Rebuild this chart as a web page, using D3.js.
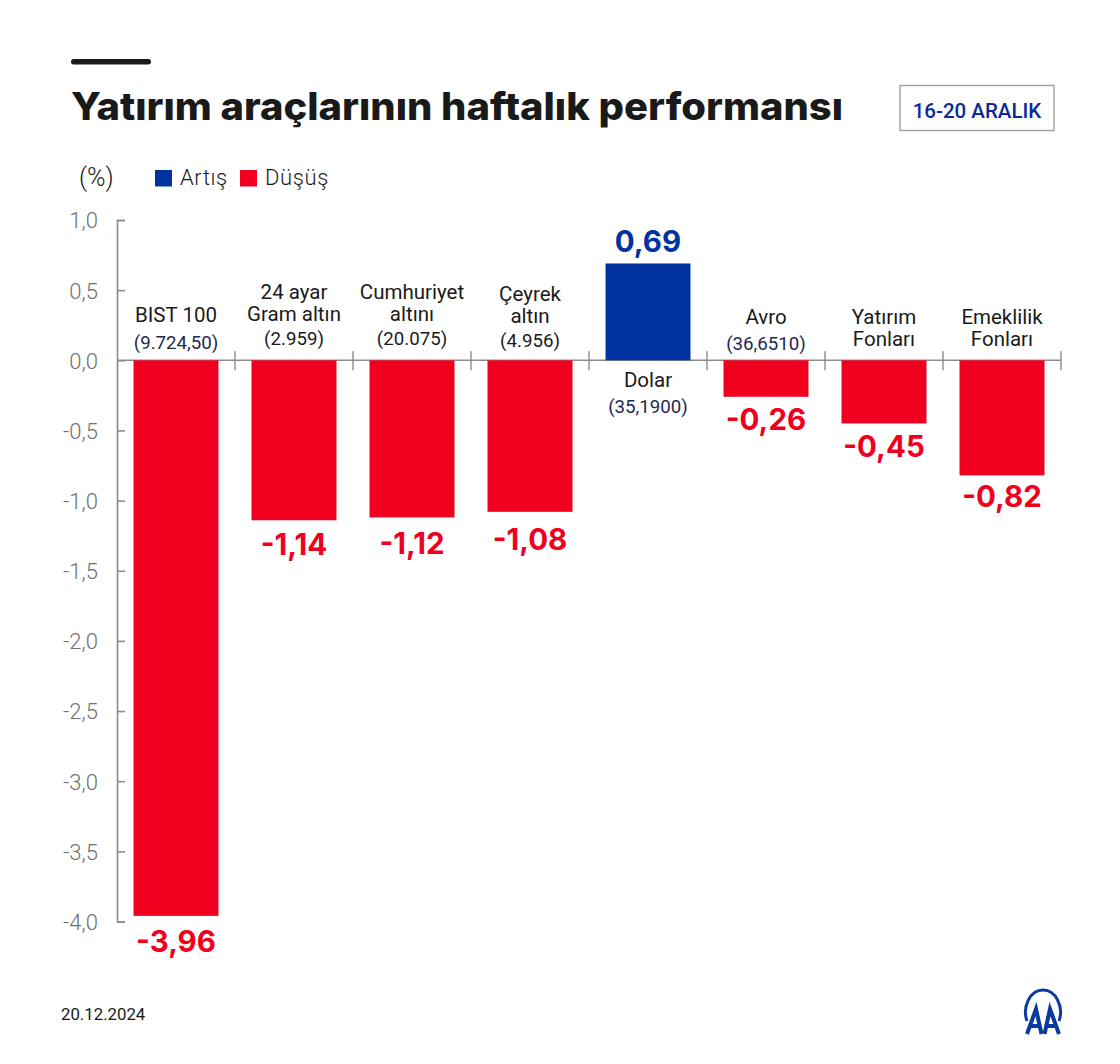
<!DOCTYPE html>
<html>
<head>
<meta charset="utf-8">
<script src="https://d3js.org/d3.v7.min.js"></script>
<style>
  html, body { margin: 0; padding: 0; background: #fff; }
  svg { display: block; }
  text { font-family: Roboto, sans-serif; }
</style>
</head>
<body>
<div id="chart"></div>
<script>
// Data
const categories = ['BIST 100', '24 ayar Gram altın', 'Cumhuriyet altını', 'Çeyrek altın', 'Dolar', 'Avro', 'Yatırım Fonları', 'Emeklilik Fonları'];
const values = [-3.96, -1.14, -1.12, -1.08, 0.69, -0.26, -0.45, -0.82];
const valueLabels = ['-3,96', '-1,14', '-1,12', '-1,08', '0,69', '-0,26', '-0,45', '-0,82'];
const nameLines = [['BIST 100'], ['24 ayar', 'Gram altın'], ['Cumhuriyet', 'altını'], ['Çeyrek', 'altın'], ['Dolar'], ['Avro'], ['Yatırım', 'Fonları'], ['Emeklilik', 'Fonları']];
const priceLabels = ['(9.724,50)', '(2.959)', '(20.075)', '(4.956)', '(35,1900)', '(36,6510)', null, null];
const yTicks = [1, 0.5, 0, -0.5, -1, -1.5, -2, -2.5, -3, -3.5, -4];
const legendItems = ['Artış', 'Düşüş'];

const blue = '#0033a0', red = '#f0001e', ink = '#1a1a1a', grey = '#8c8c8c', navy = '#1d2a52';

const svg = d3.select('#chart').append('svg').attr('width', 1120).attr('height', 1064);

// Scales
const y = d3.scaleLinear().domain([1, -4]).range([220, 921.5]);
const x = d3.scaleBand().domain(categories).range([117, 1061]).paddingInner(0.28).paddingOuter(0.14);
const slots = d3.scaleLinear().domain([0, categories.length]).range([117, 1061]);

// Header
svg.append('rect').attr('x', 71).attr('y', 59).attr('width', 80).attr('height', 5.5).attr('rx', 2.7).attr('fill', ink);
svg.append('text').attr('x', 71).attr('y', 119.5).attr('font-size', 38.5).attr('font-weight', 800)
  .style('font-family', 'Inter').attr('fill', ink)
  .attr('textLength', 772).attr('lengthAdjust', 'spacingAndGlyphs')
  .text('Yatırım araçlarının haftalık performansı');
svg.append('rect').attr('x', 900).attr('y', 85.5).attr('width', 154).attr('height', 45)
  .attr('fill', '#fff').attr('stroke', '#a0a0a0').attr('stroke-width', 1.4);
svg.append('text').attr('x', 977).attr('y', 117.5).attr('text-anchor', 'middle').attr('font-size', 20.5)
  .attr('font-weight', 500).attr('fill', '#0a2a9a').text('16-20 ARALIK');

// Legend
svg.append('text').attr('x', 79).attr('y', 186).attr('font-size', 25).attr('font-weight', 300).attr('fill', ink).text('(%)');
const legendX = [155, 240];
legendItems.forEach((d, i) => {
  svg.append('rect').attr('x', legendX[i]).attr('y', 170).attr('width', 17).attr('height', 16.5).attr('fill', i ? red : blue);
  svg.append('text').attr('x', legendX[i] + 25).attr('y', 185).attr('font-size', 22).attr('font-weight', 300)
    .attr('letter-spacing', 0.6).attr('fill', ink).text(d);
});

// Y axis
const yAxis = d3.axisLeft(y).tickValues(yTicks).tickSize(-8).tickPadding(19)
  .tickFormat(d => d3.format('.1f')(d).replace('.', ',').replace('−', '-'));
const gy = svg.append('g').attr('transform', 'translate(117,0)').call(yAxis);
gy.selectAll('path, line').attr('stroke', grey).attr('stroke-width', 1.6);
gy.selectAll('text').attr('font-size', 22).attr('font-weight', 300).attr('fill', '#707070')
  .style('font-family', 'Roboto').attr('dy', '0.36em');

// Zero line with slot separators
svg.append('line').attr('x1', 117).attr('x2', 1061).attr('y1', y(0)).attr('y2', y(0))
  .attr('stroke', grey).attr('stroke-width', 1.6);
svg.selectAll('line.slot').data(d3.range(1, categories.length + 1)).enter().append('line')
  .attr('class', 'slot').attr('x1', d => slots(d)).attr('x2', d => slots(d))
  .attr('y1', y(0) - 9).attr('y2', y(0) + 10).attr('stroke', grey).attr('stroke-width', 1.4);

// Bars
svg.selectAll('rect.bar').data(values).enter().append('rect').attr('class', 'bar')
  .attr('x', (d, i) => x(categories[i]))
  .attr('width', x.bandwidth())
  .attr('y', d => Math.min(y(d), y(0)))
  .attr('height', d => Math.abs(y(d) - y(0)))
  .attr('fill', d => d > 0 ? blue : red);

// Value labels, the gap to the bar end differs a little per bar in the original
const labelGap = [36, 35, 37, 38, 11, 33, 34, 32];
svg.selectAll('text.val').data(values).enter().append('text').attr('class', 'val')
  .attr('x', (d, i) => x(categories[i]) + x.bandwidth() / 2)
  .attr('y', (d, i) => d > 0 ? y(d) - labelGap[i] : y(d) + labelGap[i])
  .attr('text-anchor', 'middle').attr('font-size', 29.5).attr('font-weight', 700)
  .style('font-family', 'Inter')
  .attr('fill', d => d > 0 ? blue : red)
  .text((d, i) => valueLabels[i]);

// Category labels: baselines of each label block, top line first
const lineY = [[322, 349], [299, 321, 345], [299, 321, 345], [301, 323, 347], [387, 413], [324, 350], [324, 346], [324, 346]];
const navyPrices = [0, 4, 5];
categories.forEach((c, i) => {
  const cx = x(c) + x.bandwidth() / 2;
  nameLines[i].forEach((line, j) => {
    svg.append('text').attr('x', cx).attr('y', lineY[i][j]).attr('text-anchor', 'middle')
      .attr('font-size', 20.5).attr('fill', ink).text(line);
  });
  if (priceLabels[i]) {
    svg.append('text').attr('x', cx).attr('y', lineY[i][nameLines[i].length]).attr('text-anchor', 'middle')
      .attr('font-size', 18.7).attr('fill', navyPrices.includes(i) ? navy : ink).text(priceLabels[i]);
  }
});

// Footer
svg.append('text').attr('x', 61).attr('y', 1020).attr('font-size', 16.8).attr('fill', ink).text('20.12.2024');

// Logo
const logo = svg.append('g').attr('fill', 'none').attr('stroke', '#0a3a9e');
logo.append('path').attr('d', 'M1027 1021 A17.5 22 0 1 1 1059 1021').attr('stroke-width', 3);
logo.append('path').attr('d', 'M1027 1034 L1036 1009 L1041.5 1034 M1031 1026 L1041 1026').attr('stroke-width', 4);
logo.append('path').attr('d', 'M1059 1034 L1050 1009 L1044.5 1034 M1045 1026 L1055 1026').attr('stroke-width', 4);
</script>
</body>
</html>
